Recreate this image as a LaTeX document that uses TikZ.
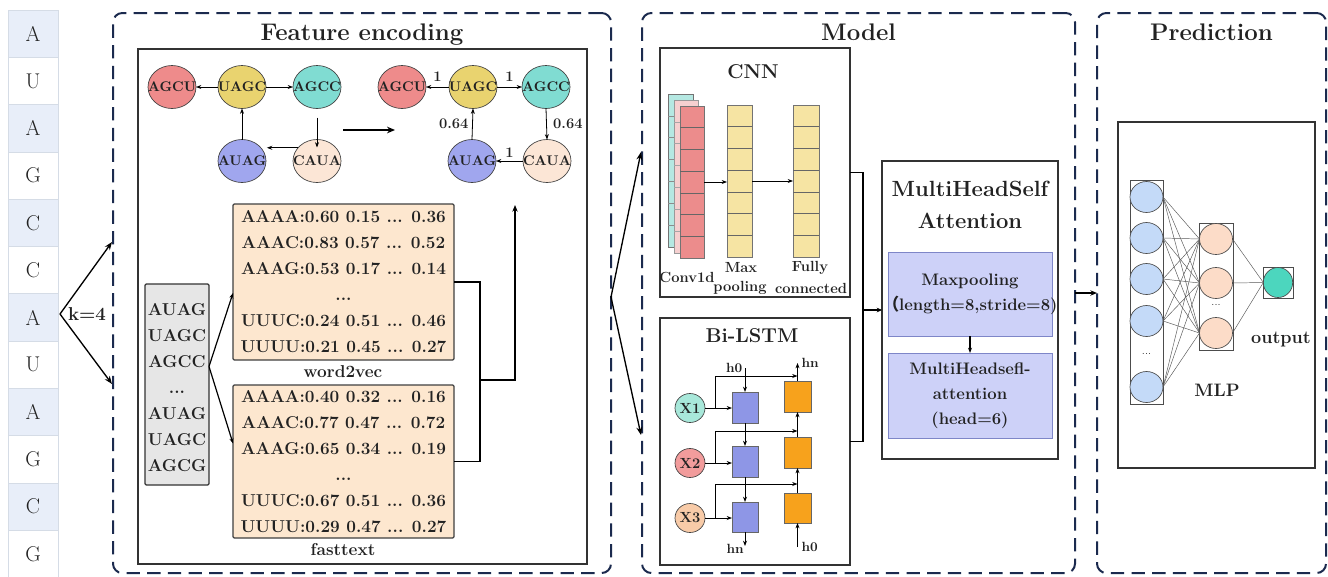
\documentclass[tikz,border=0pt]{standalone}
\usepackage{fontspec}
\newfontfamily\cjk{Noto Sans CJK TC}
\usetikzlibrary{arrows.meta,shapes.geometric,fit,calc}
\newcommand\myfs[2]{\fontsize{#1}{#2}\selectfont}
\definecolor{navy}{HTML}{1B2A4E}
\definecolor{seqA}{HTML}{E8EEF9}
\definecolor{seqline}{HTML}{D5DCE6}
\definecolor{cRed}{HTML}{EE8B8B}
\definecolor{cYel}{HTML}{E9D36F}
\definecolor{cTeal}{HTML}{80DCD2}
\definecolor{cBlue}{HTML}{A0A6EE}
\definecolor{cPeach}{HTML}{FCE6D6}
\definecolor{vecfill}{HTML}{FDE7CF}
\definecolor{kmerfill}{HTML}{E6E6E6}
\definecolor{convteal}{HTML}{B5E8E2}
\definecolor{convpink}{HTML}{F6D0D0}
\definecolor{convred}{HTML}{EC8C8C}
\definecolor{poolyel}{HTML}{F6E4A3}
\definecolor{lstmblue}{HTML}{8E96E6}
\definecolor{lstmor}{HTML}{F7A21C}
\definecolor{xone}{HTML}{A8E8DA}
\definecolor{xtwo}{HTML}{F29C9C}
\definecolor{xthree}{HTML}{F8CBA8}
\definecolor{attfill}{HTML}{CDD1F8}
\definecolor{attline}{HTML}{7E86C8}
\definecolor{inC}{HTML}{C4DAF8}
\definecolor{hidC}{HTML}{FCDCC8}
\definecolor{outC}{HTML}{4CD6BE}
\definecolor{txt}{HTML}{222222}
\begin{document}
\begin{tikzpicture}[x=0.75pt,y=-0.75pt,
  every node/.style={inner sep=0pt,outer sep=0pt,text=txt},
  dbox/.style={draw=navy,line width=1.5pt,dash pattern=on 10pt off 5.5pt,rounded corners=7pt,inner sep=0pt},
  ibox/.style={draw=black!80,line width=0.9pt,inner sep=0pt},
  ttl/.style={font=\bfseries\myfs{18}{20}},
  sttl/.style={font=\bfseries\myfs{15}{24}},
  seqcell/.style={draw=seqline,line width=0.5pt,minimum width=37.5pt,minimum height=35.475pt,font=\myfs{16}{16}},
  gnode/.style={ellipse,draw=black!75,line width=0.5pt,minimum width=36pt,minimum height=32.25pt},
  glab/.style={font=\bfseries\myfs{10.5}{10.5}},
  sarr/.style={-{Stealth[length=4pt,width=3pt]},line width=0.6pt},
  elab/.style={font=\bfseries\myfs{11}{12}},
  vtxt/.style={font=\bfseries\myfs{12.9}{19.5},align=center},
  vbox/.style={draw=black!75,line width=0.9pt,fill=vecfill,rounded corners=1pt,inner sep=0pt},
  conn/.style={line width=1.2pt},
  bigarr/.style={-{Stealth[length=6pt,width=5pt]},line width=1.2pt},
  cell/.style={draw=black!55,line width=0.4pt,inner sep=0pt},
  clab/.style={font=\bfseries\myfs{11}{12}},
  xnode/.style={ellipse,draw=black!75,line width=0.5pt,minimum width=22.5pt,minimum height=21.75pt,font=\bfseries\myfs{11}{11}},
  lbox/.style={draw=black!60,line width=0.4pt,inner sep=0pt},
  llab/.style={font=\bfseries\myfs{10}{10}},
  abox/.style={draw=attline,line width=0.6pt,fill=attfill,inner sep=0pt},
  atxt/.style={font=\bfseries\myfs{12.5}{18.75},align=center},
  ncol/.style={draw=black!70,line width=0.5pt,inner sep=0pt},
  neur/.style={ellipse,draw=black!70,line width=0.5pt,minimum width=24.75pt,minimum height=23.25pt},
  nnline/.style={line width=0.35pt,black!65},
  mlab/.style={font=\bfseries\myfs{13.5}{14}}
]
\useasboundingbox (0,0) rectangle (1328,576);
\fill[white] (0,0) rectangle (1328,576);

% ---------- input sequence ----------
\foreach \l [count=\i from 0] in {A,U,A,G,C,C,A,U,A,G,C,G}{
  \pgfmathtruncatemacro\m{mod(\i,2)}
  \ifnum\m=0 \def\fc{seqA}\else\def\fc{white}\fi
  \node[seqcell,fill=\fc] (s\i) at (33,{33.65+47.3*\i}) {\l};
}

% ---------- dashed panels ----------
\node[dbox,fit={(113,13)(611,573)}] (fe) {};
\node[dbox,fit={(642,13)(1075,573)}] (md) {};
\node[dbox,fit={(1097,13)(1326,573)}] (pd) {};
\node[ttl,anchor=base] (tfe) at (362,40) {Feature encoding};
\node[ttl,anchor=base] (tmd) at (858.5,40) {Model};
\node[ttl,anchor=base] (tpd) at (1211.5,40) {Prediction};

% k=4 arrows
\coordinate (kv) at (60,314);
\coordinate (ku) at (112,242);
\coordinate (kd) at (112,384);
\draw[-{Stealth[length=6pt,width=4.5pt]},line width=1pt] (kv) -- (ku);
\draw[-{Stealth[length=6pt,width=4.5pt]},line width=1pt] (kv) -- (kd);
\node[font=\bfseries\myfs{14}{14}] (k4) at (87,314) {k=4};

% ---------- feature encoding ----------
\node[ibox,fit={(138,49)(587,564)}] (fin) {};
% graph 1
\node[gnode,fill=cRed,label={[glab]center:AGCU}] (g1a) at (172,87) {};
\node[gnode,fill=cYel,label={[glab]center:UAGC}] (g1b) at (242,87) {};
\node[gnode,fill=cTeal,label={[glab]center:AGCC}] (g1c) at (317,87) {};
\node[gnode,fill=cBlue,label={[glab]center:AUAG}] (g1d) at (242,161) {};
\node[gnode,fill=cPeach,label={[glab]center:CAUA}] (g1e) at (317,161) {};
\draw[sarr] (g1b.west) -- (g1a.east);
\draw[sarr] (g1b.east) -- (g1c.west);
\draw[sarr] (g1d.north) -- (g1b.south);
\draw[sarr] ($(g1c.south)+(0,9)$) -- ($(g1e.north)+(0,8)$);
\draw[sarr] (g1e.145) -- ($(g1d.35)+(6,0)$);
% big arrow
\coordinate (ba1) at (343,130);
\coordinate (ba2) at (395,130);
\draw[bigarr] (ba1) -- (ba2);
% graph 2
\node[gnode,fill=cRed,label={[glab]center:AGCU}] (g2a) at (402,87) {};
\node[gnode,fill=cYel,label={[glab]center:UAGC}] (g2b) at (473,87) {};
\node[gnode,fill=cTeal,label={[glab]center:AGCC}] (g2c) at (546,87) {};
\node[gnode,fill=cBlue,label={[glab]center:AUAG}] (g2d) at (472,161) {};
\node[gnode,fill=cPeach,label={[glab]center:CAUA}] (g2e) at (547,161) {};
\draw[sarr] (g2b.west) -- node[elab,above=4pt] {1} (g2a.east);
\draw[sarr] (g2b.east) -- node[elab,above=4pt] {1} (g2c.west);
\draw[sarr] (g2d.north) -- node[elab,left=3pt] {0.64} (g2b.south);
\draw[sarr] (g2c.south) -- node[elab,right=5pt] {0.64} (g2e.north);
\draw[sarr] (g2e.west) -- node[elab,above=3pt] {1} (g2d.east);

% k-mer list
\node[draw=black!80,line width=0.9pt,fill=kmerfill,rounded corners=1pt,fit={(145,284)(209,485)}] (kmer) {};
\node[vtxt] (kmert) at (177,388) {AUAG\\UAGC\\AGCC\\...\\AUAG\\UAGC\\AGCG};
% vectors
\node[vbox,fit={(233,204)(454,360)}] (w2v) {};
\node[vtxt] (w2vt) at (w2v.center) {AAAA:0.60 0.15 ... 0.36\\AAAC:0.83 0.57 ... 0.52\\AAAG:0.53 0.17 ... 0.14\\...\\UUUC:0.24 0.51 ... 0.46\\UUUU:0.21 0.45 ... 0.27};
\node[vtxt] (w2vl) at (343,372) {word2vec};
\node[vbox,fit={(233,385)(454,538)}] (ft) {};
\node[vtxt] (ftt) at (ft.center) {AAAA:0.40 0.32 ... 0.16\\AAAC:0.77 0.47 ... 0.72\\AAAG:0.65 0.34 ... 0.19\\...\\UUUC:0.67 0.51 ... 0.36\\UUUU:0.29 0.47 ... 0.27};
\node[vtxt] (ftl) at (343,550) {fasttext};
\draw[sarr,line width=0.9pt] ($(kmer.east)+(0,-18)$) -- ($(w2v.west)+(0,11)$);
\draw[sarr,line width=0.9pt] ($(kmer.east)+(0,-18)$) -- ($(ft.west)+(0,-18)$);
\coordinate (jx) at (480,380);
\coordinate (up) at (515,205);
\draw[conn] (w2v.east) -| (jx) |- (ft.east);
\draw[conn,-{Stealth[length=5pt,width=4pt]}] (jx) -| (up);

% feature -> model
\coordinate (fv) at (611,297);
\coordinate (mu) at (641,152);
\coordinate (mdn) at (641,435);
\draw[-{Stealth[length=6pt,width=4.5pt]},line width=1pt] (fv) -- (mu);
\draw[-{Stealth[length=6pt,width=4.5pt]},line width=1pt] (fv) -- (mdn);

% ---------- CNN ----------
\node[ibox,fit={(660,48)(850,297)}] (cnn) {};
\node[sttl] (tcnn) at (753,72) {CNN};
\node[cell,fill=convteal,fit={(668,94)(693,247)}] (convb) {};
\foreach \k in {1,...,6} \draw[black!45,line width=0.4pt] (668,{94+\k*153/7}) -- (693,{94+\k*153/7});
\node[cell,fill=convpink,draw=black!40,fit={(674,100)(698,253)}] (convm) {};
\foreach \k in {1,...,6} \draw[black!35,line width=0.4pt] (674,{100+\k*153/7}) -- (698,{100+\k*153/7});
\node[cell,fill=convred,fit={(680,106)(704,258)}] (conv) {};
\foreach \k in {1,...,6} \draw[black!60,line width=0.4pt] (680,{106+\k*152/7}) -- (704,{106+\k*152/7});
\node[cell,fill=poolyel,fit={(727,105)(752,257)}] (pool) {};
\foreach \k in {1,...,6} \draw[black!60,line width=0.4pt] (727,{105+\k*152/7}) -- (752,{105+\k*152/7});
\node[cell,fill=poolyel,fit={(793,105)(819,257)}] (fc) {};
\foreach \k in {1,...,6} \draw[black!60,line width=0.4pt] (793,{105+\k*152/7}) -- (819,{105+\k*152/7});
\draw[sarr] (conv.east) -- (conv.east -| pool.west);
\draw[sarr] (pool.east) -- (pool.east -| fc.west);
\node[clab] (lconv) at (687,277) {Conv1d};
\node[clab] (lmax) at (741,268) {Max};
\node[clab] (lpool) at (740,288) {pooling};
\node[clab] (lful) at (810,268) {Fully};
\node[clab] (lcon) at (811,288) {connected};

% ---------- Bi-LSTM ----------
\node[ibox,fit={(660,318)(850,565)}] (lstm) {};
\node[sttl] (tlstm) at (752,336) {Bi-LSTM};
\node[xnode,fill=xone] (x1) at (690,408) {X1};
\node[xnode,fill=xtwo] (x2) at (690,463) {X2};
\node[xnode,fill=xthree] (x3) at (690,518) {X3};
\node[lbox,fill=lstmblue,fit={(732,392)(758,423)}] (b1) {};
\node[lbox,fill=lstmblue,fit={(732,446)(758,477)}] (b2) {};
\node[lbox,fill=lstmblue,fit={(732,502)(758,532)}] (b3) {};
\node[lbox,fill=lstmor,fit={(784,381)(811,412)}] (o1) {};
\node[lbox,fill=lstmor,fit={(784,437)(811,468)}] (o2) {};
\node[lbox,fill=lstmor,fit={(784,493)(811,523)}] (o3) {};
\draw[sarr] (x1.east) -- (x1.east -| b1.west);
\draw[sarr] (x2.east) -- (x2.east -| b2.west);
\draw[sarr] (x3.east) -- (x3.east -| b3.west);
\draw[sarr] ($(x1.east)!0.37!(x1.east -| b1.west)$) |- ($(o1.north)+(0,-5)$);
\draw[sarr] ($(x2.east)!0.37!(x2.east -| b2.west)$) |- ($(o1.south)+(0,19)$);
\draw[sarr] ($(x3.east)!0.37!(x3.east -| b3.west)$) |- ($(o2.south)+(0,16)$);
\draw[sarr] ($(b1.north)+(0,-24)$) node[llab,anchor=east,xshift=-2pt] {h0} -- (b1.north);
\draw[sarr] (b1.south) -- (b2.north);
\draw[sarr] (b2.south) -- (b3.north);
\draw[sarr] (b3.south) -- ($(b3.south)+(0,14)$) node[llab,anchor=east,xshift=-1pt,yshift=-2pt] {hn};
\draw[sarr] ($(o3.south)+(0,24)$) node[llab,anchor=west,xshift=3pt] {h0} -- (o3.south);
\draw[sarr] (o3.north) -- (o2.south);
\draw[sarr] (o2.north) -- (o1.south);
\draw[sarr] (o1.north) -- ($(o1.north)+(0,-18)$) node[llab,anchor=west,xshift=3pt] {hn};

% ---------- attention ----------
\node[ibox,fit={(882,161)(1058,459)}] (att) {};
\node[font=\bfseries\myfs{16.5}{24},align=center] (tatt) at (970,205) {MultiHeadSelf\\Attention};
\node[abox,fit={(888,252)(1052,336)}] (mp) {};
\node[atxt] (mpt) at (mp.center) {Maxpooling\\{\cjk （}length=8,stride=8)};
\node[abox,fit={(888,353)(1052,438)}] (mha) {};
\node[atxt] (mhat) at (mha.center) {MultiHeadsefl-\\attention\\(head=6)};
\draw[sarr,line width=0.9pt] (mp.south) -- (mha.north);
\coordinate (jm) at (863,310);
\draw[conn] (cnn.east) -| (jm) |- (lstm.east);
\draw[conn,-{Stealth[length=4pt,width=3.5pt]}] (jm) -- (jm -| att.west);

% model -> prediction
\draw[conn,-{Stealth[length=5pt,width=4pt]}] (md.east) -- (pd.west);

% ---------- MLP ----------
\node[ibox,fit={(1118,122)(1315,468)}] (mlp) {};
\node[ncol,fit={(1130,180)(1163,404)}] (icol) {};
\node[ncol,fit={(1199,223)(1233,350)}] (hcol) {};
\node[ncol,fit={(1263,267)(1293,298)}] (ocol) {};
\foreach \y [count=\i] in {197,238,279,321,387}
  \node[neur,fill=inC] (i\i) at (1146.5,\y) {};
\foreach \y [count=\i] in {239,283,333}
  \node[neur,fill=hidC] (h\i) at (1216,\y) {};
\node[neur,fill=outC,minimum width=22pt,minimum height=22.5pt] (out) at (1278,282.5) {};
\node[font=\myfs{7}{7}] (idots) at (1146.5,354) {...};
\node[font=\myfs{7}{7}] (hdots) at (1216,305) {...};
\foreach \a in {1,...,5}{
  \foreach \b in {1,2,3}{
    \draw[nnline] (i\a.east) -- (h\b.west);
  }
}
\foreach \b in {1,2,3} \draw[nnline] (h\b.east) -- (out.west);
\node[mlab] (lout) at (1281,340) {output};
\node[mlab] (lmlp) at (1217,390) {MLP};
\end{tikzpicture}
\end{document}
